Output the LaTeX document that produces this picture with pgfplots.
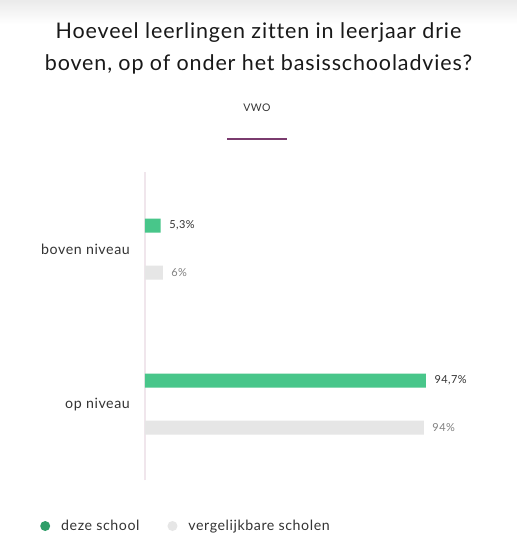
\documentclass[border=0pt]{standalone}
\usepackage{pgfplots}
\pgfplotsset{compat=1.18}
\usepackage{fontspec}
\setmainfont{Lato}[LetterSpace=4, Ligatures=NoCommon]
\definecolor{schoolgreen}{HTML}{48C68A}
\definecolor{legendgreen}{HTML}{2E9E68}
\definecolor{compgray}{HTML}{E6E6E6}
\definecolor{txt}{HTML}{333333}
\definecolor{purp}{HTML}{7A3B6E}
\definecolor{axisline}{HTML}{F0E6EC}
\begin{document}
\begin{tikzpicture}[x=1pt,y=1pt]
\fill[white] (0pt,0pt) rectangle (517pt,-552pt);
\shade[top color=black!8, bottom color=white] (0pt,0pt) rectangle (517pt,-24pt);
\node[font=\fontsize{21.5}{32}\selectfont, text=black!90, align=center] at (258.5pt,-48pt) {Hoeveel leerlingen zitten in leerjaar drie\\boven, op of onder het basisschooladvies?};
\node[font=\fontsize{10.5}{12}\selectfont, text=txt] at (257pt,-108pt) {VWO};
\draw[purp, line width=2pt] (227pt,-139pt) -- (287pt,-139pt);
\begin{axis}[
  xbar, at={(145pt,-480pt)}, anchor=south west,
  scale only axis, width=296.7pt, height=308.5pt,
  xmin=0, xmax=100, ymin=-0.49, ymax=1.5,
  bar width=14pt,
  axis x line=none, axis y line=left,
  y axis line style={draw=axisline, line width=1.2pt, -},
  ytick={0,1}, yticklabels={op niveau,boven niveau},
  major tick length=0pt,
  yticklabel style={font=\fontsize{14.2}{16}\selectfont, text=txt, inner sep=0pt, xshift=-15pt},
  clip=false,
  /pgf/number format/use comma,
  /pgf/number format/assume math mode=true,
  nodes near coords={\pgfmathprintnumber\pgfplotspointmeta\%},
  nodes near coords style={font=\fontsize{11}{12}\selectfont, anchor=west, xshift=5pt},
  legend style={draw=none, fill=none, at={(axis description cs:0,0)}, anchor=west, xshift=-105pt, yshift=-46pt, legend columns=2, inner sep=0pt, font=\fontsize{14.2}{16}\selectfont, text=txt, /tikz/every even column/.append style={column sep=26pt}},
  legend cell align=left,
]
\addplot[fill=schoolgreen, draw=none, bar shift=23.5pt, every node near coord/.append style={text=txt},
  legend image code/.code={\fill[legendgreen] (0,0) circle (5pt); \path (14pt,0);}] coordinates {(5.3,1) (94.7,0)};
\addplot[fill=compgray, draw=none, bar shift=-23.5pt, every node near coord/.append style={text=black!50},
  legend image code/.code={\fill[compgray] (0,0) circle (5pt); \path (14pt,0);}] coordinates {(6,1) (94,0)};
\legend{deze school, vergelijkbare scholen}
\end{axis}
\end{tikzpicture}
\end{document}
